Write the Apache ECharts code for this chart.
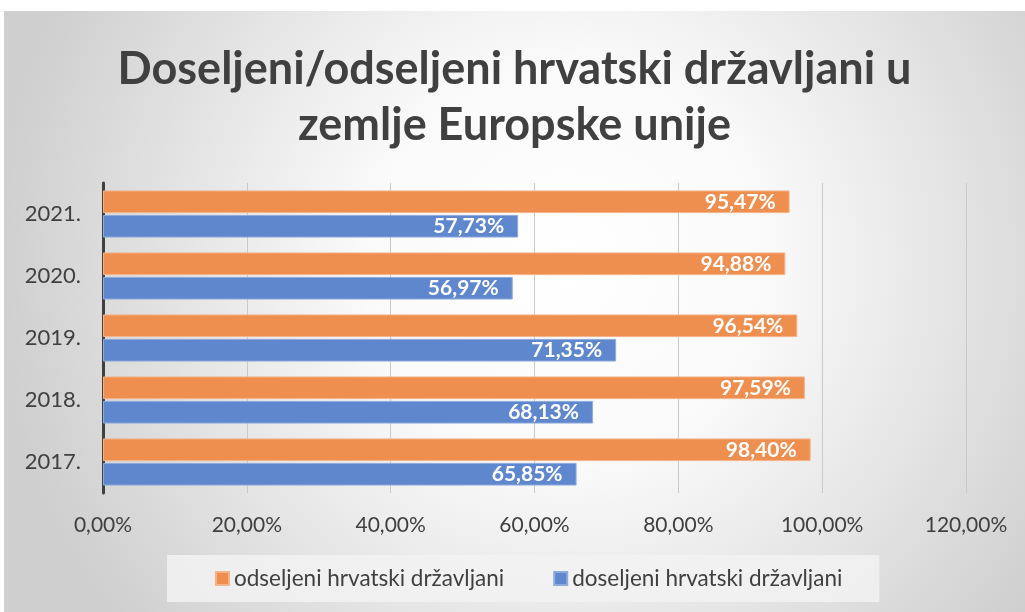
<!DOCTYPE html>
<html>
<head>
<meta charset="utf-8">
<script src="https://cdn.jsdelivr.net/npm/echarts@6/dist/echarts.min.js"></script>
<style>
  html, body { margin: 0; padding: 0; background: #ffffff; }
  #chart { position: absolute; left: 4px; top: 11px; width: 1021px; height: 601px; }
</style>
</head>
<body>
<div id="chart"></div>
<script>
// podaci
const years = ['2017.', '2018.', '2019.', '2020.', '2021.']
const odseljeni = [98.40, 97.59, 96.54, 94.88, 95.47]
const doseljeni = [65.85, 68.13, 71.35, 56.97, 57.73]
const xTicks = [0, 20, 40, 60, 80, 100, 120]

const fmt = v => v.toFixed(2).replace('.', ',') + '%'
const font = 'Lato, "Open Sans", sans-serif'

const chart = echarts.init(document.getElementById('chart'))

const option = {
  backgroundColor: {
    type: 'radial', x: 0.55, y: 0.42, r: 0.95,
    colorStops: [
      { offset: 0, color: '#ffffff' },
      { offset: 0.35, color: '#fafafa' },
      { offset: 1, color: '#cfcfcf' }
    ]
  },
  textStyle: { fontFamily: font },
  title: {
    text: 'Doseljeni/odseljeni hrvatski državljani u\nzemlje Europske unije',
    left: 'center',
    top: 25,
    textStyle: {
      fontFamily: font,
      fontSize: 45,
      fontWeight: 'bold',
      color: '#404040',
      lineHeight: 56
    }
  },
  legend: {
    data: ['odseljeni hrvatski državljani', 'doseljeni hrvatski državljani'],
    icon: 'rect',
    bottom: 10,
    left: 163,
    itemWidth: 13,
    itemHeight: 13,
    itemGap: 49,
    padding: [12, 37, 12, 48],
    backgroundColor: 'rgba(242,242,242,0.85)',
    textStyle: { fontFamily: font, fontSize: 22.5, color: '#404040' }
  },
  grid: { left: 99, right: 59, top: 172, bottom: 119 },
  xAxis: {
    type: 'value',
    min: xTicks[0],
    max: xTicks[xTicks.length - 1],
    interval: 20,
    axisLine: { show: false },
    axisTick: { show: false },
    splitLine: { lineStyle: { color: '#c9c9c9', width: 1 } },
    axisLabel: {
      formatter: fmt,
      margin: 22,
      fontSize: 21,
      color: '#404040',
      fontFamily: font
    }
  },
  yAxis: {
    type: 'category',
    data: years,
    axisLine: { show: true, lineStyle: { color: '#404040', width: 3 } },
    axisTick: { show: false },
    axisLabel: { margin: 22, fontSize: 22, color: '#404040', fontFamily: font }
  },
  series: [
    {
      name: 'odseljeni hrvatski državljani',
      type: 'bar',
      data: odseljeni,
      barGap: '8%',
      barCategoryGap: '24%',
      itemStyle: { color: '#ee8e4f', borderColor: '#f5b389', borderWidth: 1 },
      label: {
        show: true, position: 'insideRight', distance: 14,
        formatter: p => fmt(p.value),
        color: '#ffffff', fontWeight: 'bold', fontSize: 21, fontFamily: font
      }
    },
    {
      name: 'doseljeni hrvatski državljani',
      type: 'bar',
      data: doseljeni,
      barGap: '8%',
      barCategoryGap: '24%',
      itemStyle: { color: '#5f87cd', borderColor: '#8fabdc', borderWidth: 1 },
      label: {
        show: true, position: 'insideRight', distance: 14,
        formatter: p => fmt(p.value),
        color: '#ffffff', fontWeight: 'bold', fontSize: 21, fontFamily: font
      }
    }
  ]
}

chart.setOption(option)
window.addEventListener('resize', () => chart.resize())
</script>
</body>
</html>
